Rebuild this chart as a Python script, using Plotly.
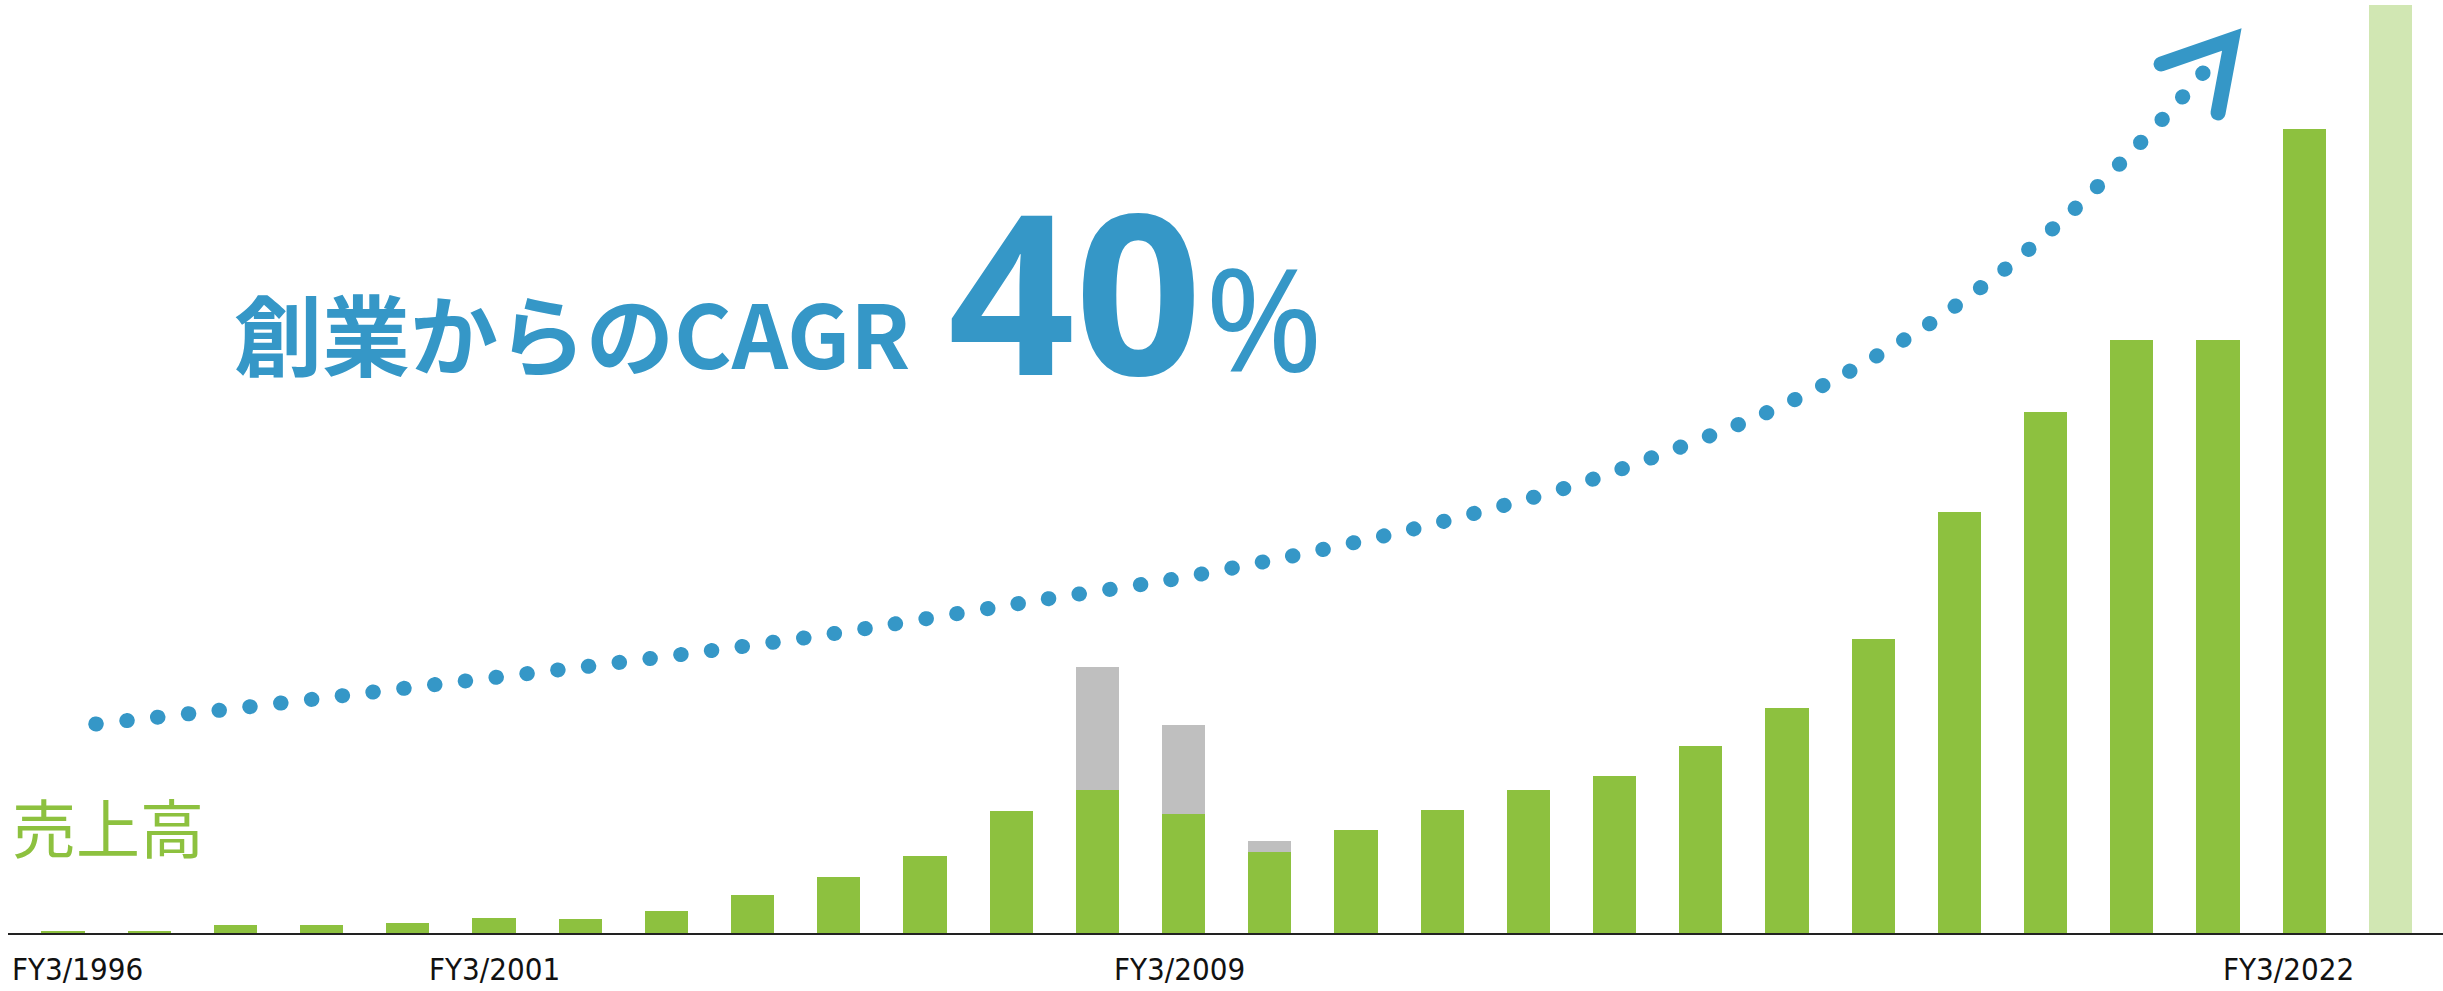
import plotly.graph_objects as go

# ---------------- data ----------------
fiscal_years = [1996, 1997, 1998, 1999, 2000, 2001, 2002, 2003, 2004, 2005,
                2006, 2007, 2008, 2009, 2010, 2011, 2012, 2013, 2014, 2015,
                2016, 2017, 2018, 2019, 2020, 2021, 2022, 2023]
# net sales (relative units)
sales = [1.2, 1.5, 8, 8.3, 9.7, 14.7, 14, 22.3, 38.3, 55.7,
         77, 122, 143, 118.7, 81.3, 103, 122.7, 142.7, 157.3, 187,
         224.6, 294.2, 420.7, 520.6, 592.7, 592.7, 804, 928]
# grey extra segment stacked on top (FY3/2008-2010)
sales_extra = [0, 0, 0, 0, 0, 0, 0, 0, 0, 0,
               0, 0, 123, 89.6, 10.7, 0, 0, 0, 0, 0,
               0, 0, 0, 0, 0, 0, 0, 0]
# last bar is a forecast (lighter colour)
is_forecast = [False] * 27 + [True]

# illustrative CAGR trend (dotted curve)
trend_x = [1996.38, 1997.81, 1999.24, 2000.66, 2002.09, 2003.51, 2004.93,
           2007.41, 2008.83, 2010.24, 2011.65, 2013.03, 2013.72, 2015.73,
           2016.69, 2017.62, 2018.49, 2019.31, 2020.07, 2020.56, 2021.02]
trend_y = [209, 222.7, 237.3, 252, 266.7, 282.3, 299.3,
           334, 353, 376.7, 403.7, 435, 453, 519,
           560, 607.3, 661.3, 722, 787.7, 833.3, 879.7]
# arrow head (chevron) at the end of the trend
arrow_x = [2020.34, 2021.16, 2021.00]
arrow_y = [869, 893.5, 820]

tick_years = [1996, 2001, 2009, 2022]
tick_labels = ["FY3/1996", "FY3/2001", "FY3/2009", "FY3/2022"]

title_text = "創業からのCAGR"
cagr_text = "40"
pct_text = "%"
axis_title = "売上高"

# ---------------- styling ----------------
GREEN = "#8DC13F"
LIGHT_GREEN = "#D1E7B3"
GREY = "#BFBFBF"
BLUE = "#3597C7"

W, H = 2443, 991
ML, MR, MT, MB = 8, 0, 0, 58
PW, PH = W - ML - MR, H - MT - MB


def px_x(px):
    return (px - ML) / PW


def px_y(py):
    return (H - MB - py) / PH


fig = go.Figure()

fig.add_trace(go.Bar(
    x=fiscal_years, y=sales, width=0.5,
    marker=dict(color=[LIGHT_GREEN if f else GREEN for f in is_forecast], line_width=0),
    hoverinfo="skip", showlegend=False))
fig.add_trace(go.Bar(
    x=fiscal_years, y=sales_extra, width=0.5,
    marker=dict(color=GREY, line_width=0),
    hoverinfo="skip", showlegend=False))

fig.add_trace(go.Scatter(
    x=trend_x, y=trend_y, mode="lines",
    line=dict(color=BLUE, width=15, shape="spline", smoothing=0.8, dash="0.5px,30.5px"),
    hoverinfo="skip", showlegend=False))
fig.add_trace(go.Scatter(
    x=arrow_x, y=arrow_y, mode="lines",
    line=dict(color=BLUE, width=15),
    hoverinfo="skip", showlegend=False))

annotations = []
# x-axis labels (placed under the axis, horizontally at the bar positions)
label_shift = {1996: None, 2001: 0, 2009: -4, 2022: -16}
for yr, txt in zip(tick_years, tick_labels):
    a = dict(x=yr, y=px_y(989), xref="x", yref="paper", text=txt, showarrow=False,
             yanchor="bottom",
             font=dict(family="Liberation Sans Narrow, DejaVu Sans Condensed, Noto Sans", size=31, color="#111111"))
    if label_shift[yr] is None:
        a.update(xanchor="left", xshift=10 - 63)
    else:
        a.update(xanchor="center", xshift=label_shift[yr])
    annotations.append(a)

annotations.append(dict(
    x=px_x(10), y=px_y(824.5), xref="paper", yref="paper", xanchor="left", yanchor="middle",
    text=axis_title, showarrow=False,
    font=dict(family="Noto Sans CJK JP", size=64, color=GREEN)))
annotations.append(dict(
    x=px_x(232), y=px_y(330), xref="paper", yref="paper", xanchor="left", yanchor="middle",
    text="<b>" + title_text + "</b>", showarrow=False,
    font=dict(family="Noto Sans CJK JP", size=88, color=BLUE)))
annotations.append(dict(
    x=px_x(946), y=px_y(289), xref="paper", yref="paper", xanchor="left", yanchor="middle",
    text="<b>" + cagr_text + "</b>", showarrow=False,
    font=dict(family="Noto Sans, Noto Sans CJK JP", size=222, color=BLUE)))
annotations.append(dict(
    x=px_x(1203), y=px_y(317), xref="paper", yref="paper", xanchor="left", yanchor="middle",
    text=pct_text, showarrow=False,
    font=dict(family="Noto Sans, Noto Sans CJK JP", size=142, color=BLUE)))

fig.update_layout(
    width=W, height=H,
    margin=dict(l=ML, r=MR, t=MT, b=MB, pad=0),
    paper_bgcolor="white", plot_bgcolor="white",
    barmode="stack", bargap=0.5,
    annotations=annotations,
    xaxis=dict(range=[1995.362, 2023.61], showline=True, linecolor="#222222", linewidth=2,
               showticklabels=False, ticks="", showgrid=False, zeroline=False, fixedrange=True),
    yaxis=dict(range=[0, PH], visible=False, showgrid=False, zeroline=False, fixedrange=True),
)

post_js = """
document.body.style.margin = '0';
document.body.style.overflow = 'hidden';
var gd = document.getElementById('{plot_id}');
gd.querySelectorAll('.scatterlayer path.js-line').forEach(function(p){
    p.style.strokeLinecap = 'round';
});
"""

fig.write_html("out.html", config={"displayModeBar": False}, post_script=post_js)
